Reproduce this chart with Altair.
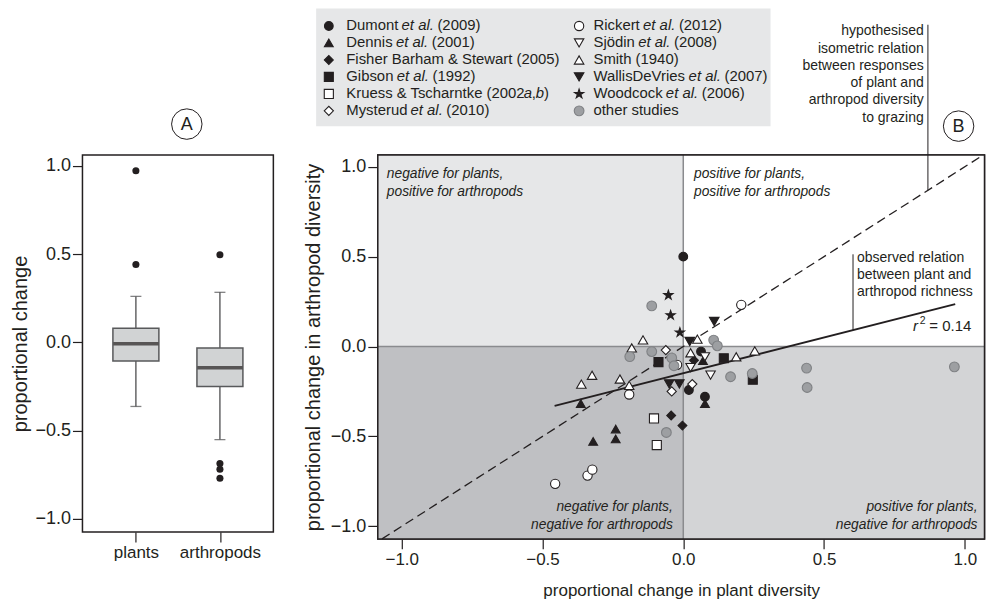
import altair as alt
import pandas as pd

FONT = "Liberation Sans"
INK = "#231f20"

# ---------------- Panel A: box summaries ----------------
box_group = ["plants", "arthropods"]
box_q1 = [-0.107, -0.251]
box_q3 = [0.079, -0.032]
box_median = [-0.009, -0.145]
box_lo = [-0.364, -0.552]
box_hi = [0.260, 0.283]
out_group = ["plants", "plants", "arthropods", "arthropods", "arthropods", "arthropods"]
out_value = [0.972, 0.441, 0.496, -0.688, -0.720, -0.771]

# ---------------- Panel B: study points ----------------
studies = ["Dumont", "Dennis", "Fisher", "Gibson", "Kruess", "Mysterud",
           "Rickert", "Sjodin", "Smith", "WallisDeVries", "Woodcock", "other"]

pt_study = (["Dumont"] * 4 + ["Dennis"] * 6 + ["Fisher"] * 3 + ["Gibson"] * 3 +
            ["Kruess"] * 2 + ["Mysterud"] * 3 + ["Rickert"] * 6 + ["Sjodin"] * 3 +
            ["Smith"] * 10 + ["WallisDeVries"] * 4 + ["Woodcock"] * 3 + ["other"] * 13)
pt_x = [0.000, 0.063, 0.020, 0.077,
        -0.364, -0.320, -0.240, -0.240, 0.070, 0.077,
        0.038, -0.043, -0.003,
        -0.088, 0.144, 0.247,
        -0.104, -0.094,
        -0.062, -0.041, 0.032,
        0.206, -0.022, -0.192, -0.455, -0.340, -0.323,
        0.077, 0.026, 0.097,
        0.050, -0.143, -0.183, 0.026, 0.188, 0.254, -0.324, -0.362, -0.225, -0.192,
        0.110, 0.023, -0.050, -0.014,
        -0.053, -0.045, -0.012,
        -0.112, -0.112, -0.190, 0.108, 0.121, -0.041, -0.033, 0.168, 0.245,
        -0.060, 0.438, 0.440, 0.963]
pt_y = [0.500, -0.028, -0.242, -0.279,
        -0.317, -0.528, -0.459, -0.514, -0.079, -0.317,
        -0.077, -0.384, -0.440,
        -0.087, -0.065, -0.185,
        -0.400, -0.548,
        -0.020, -0.250, -0.209,
        0.232, -0.102, -0.267, -0.764, -0.718, -0.685,
        -0.057, -0.117, -0.159,
        0.041, 0.037, -0.008, -0.035, -0.057, -0.024, -0.160, -0.209, -0.181, -0.216,
        0.139, 0.028, -0.208, -0.208,
        0.286, 0.174, 0.078,
        0.226, -0.028, -0.056, 0.036, 0.004, -0.063, -0.107, -0.168, -0.150,
        -0.478, -0.120, -0.228, -0.113]

# regression line end points and hypothesised 1:1 line
fit_x = [-0.457, 0.966]
fit_y = [-0.330, 0.236]
iso_v = [-1.07, 1.065]

STAR = ("M0,-1L0.2245,-0.309L0.951,-0.309L0.363,0.118L0.588,0.809L0,0.382"
        "L-0.588,0.809L-0.363,0.118L-0.951,-0.309L-0.2245,-0.309Z")
GRAY_PT = "#9d9fa2"
shape_range = ["circle", "triangle-up", "diamond", "square", "square", "diamond",
               "circle", "triangle-down", "triangle-up", "triangle-down", STAR, "circle"]
fill_range = [INK, INK, INK, INK, "white", "white", "white", "white", "white", INK, INK, GRAY_PT]
stroke_range = [INK] * 11 + ["#7f8184"]
size_range = [76, 95, 100, 52, 52, 100, 66, 95, 95, 95, 125, 66]

# legend text (segments: text, italic?)
legend_segments = [
    [("Dumont", 0), ("et al.", 1), ("(2009)", 0)],
    [("Dennis", 0), ("et al.", 1), ("(2001)", 0)],
    [("Fisher Barham & Stewart (2005)", 0)],
    [("Gibson", 0), ("et al.", 1), ("(1992)", 0)],
    [("Kruess & Tscharntke (2002", 0), ("a", 1), (",", 0), ("b", 1), (")", 0)],
    [("Mysterud", 0), ("et al.", 1), ("(2010)", 0)],
    [("Rickert", 0), ("et al.", 1), ("(2012)", 0)],
    [("Sjödin", 0), ("et al.", 1), ("(2008)", 0)],
    [("Smith (1940)", 0)],
    [("WallisDeVries", 0), ("et al.", 1), ("(2007)", 0)],
    [("Woodcock", 0), ("et al.", 1), ("(2006)", 0)],
    [("other studies", 0)],
]

# Arial / Liberation Sans advance widths (1/1000 em)
AW = {" ": 278, "&": 667, "(": 333, ")": 333, ",": 278, ".": 278, "=": 584}
AW.update({d: 556 for d in "0123456789"})
AW.update(dict(zip("ABCDEFGHIJKLMNOPQRSTUVWXYZ",
                   [667, 667, 722, 722, 667, 611, 778, 722, 278, 500, 667, 556, 833,
                    722, 778, 667, 778, 722, 667, 611, 722, 667, 944, 667, 667, 611])))
AW.update(dict(zip("abcdefghijklmnopqrstuvwxyz",
                   [556, 556, 500, 556, 556, 278, 556, 556, 222, 222, 500, 222, 833,
                    556, 556, 556, 556, 333, 500, 278, 556, 500, 722, 500, 500, 500])))
AW["ö"] = 556


def tw(s, size):
    return 0.983 * sum(AW.get(c, 556) for c in s) * size / 1000.0


# ---------------- sizes / scales ----------------
A_W, A_H = 191, 377
B_W, B_H = 607, 384
XD = [-1.085, 1.07]
YD = [-1.07, 1.065]
PXX = B_W / (XD[1] - XD[0])
LEG_FS = 14.9
ANN_FS = 14

tick_vals = [-1.0, -0.5, 0.0, 0.5, 1.0]

# ================= Panel A =================
box_df = pd.DataFrame(dict(group=box_group, q1=box_q1, q3=box_q3, med=box_median,
                           lo=box_lo, hi=box_hi))
out_df = pd.DataFrame(dict(group=out_group, value=out_value))
cap_df = pd.DataFrame(dict(group=box_group * 2, value=box_lo + box_hi))

xa = alt.X("group:N", sort=box_group,
           scale=alt.Scale(type="point", padding=0.636),
           axis=alt.Axis(title=None, labelAngle=0, labelFontSize=17, labelPadding=3,
                         tickSize=10, domain=False, grid=False))
ya_scale = alt.Scale(domain=[-1.075, 1.061], nice=False, zero=False)
ya_axis = alt.Axis(values=tick_vals, format=".1f", title="proportional change",
                   titleFontSize=20, labelFontSize=18, tickSize=10, labelPadding=2,
                   titlePadding=4, domain=False, grid=False)

whisk = alt.Chart(box_df).mark_rule(color="#4d4d4f", strokeWidth=1.3).encode(
    x=xa, y=alt.Y("lo:Q", scale=ya_scale, axis=ya_axis), y2="hi:Q")
caps = alt.Chart(cap_df).mark_tick(color="#4d4d4f", size=11, thickness=1.3).encode(
    x=xa, y=alt.Y("value:Q", scale=ya_scale, axis=ya_axis))
boxes = alt.Chart(box_df).mark_bar(size=46, color="#d1d3d4", stroke="#58595b",
                                   strokeWidth=1.5).encode(
    x=xa, y=alt.Y("q1:Q", scale=ya_scale, axis=ya_axis), y2="q3:Q")
meds = alt.Chart(box_df).mark_tick(color=INK, size=45, thickness=3.5).encode(
    x=xa, y=alt.Y("med:Q", scale=ya_scale, axis=ya_axis))
outs = alt.Chart(out_df).mark_circle(color=INK, size=50, opacity=1).encode(
    x=xa, y=alt.Y("value:Q", scale=ya_scale, axis=ya_axis))
badge_a = alt.Chart(pd.DataFrame({"t": ["A"]})).mark_point(
    shape="circle", size=930, filled=True, fill="white", stroke=INK, strokeWidth=1,
    opacity=1).encode(x=alt.value(104.4), y=alt.value(-31))
badge_a_txt = alt.Chart(pd.DataFrame({"t": ["A"]})).mark_text(
    fontSize=18, color=INK, baseline="middle", dy=1).encode(
    x=alt.value(104.4), y=alt.value(-31), text="t:N")

panelA = alt.layer(whisk, caps, boxes, meds, outs, badge_a, badge_a_txt).properties(
    width=A_W, height=A_H)

# ================= Panel B =================
xs = alt.Scale(domain=XD, nice=False, zero=False)
ys = alt.Scale(domain=YD, nice=False, zero=False)
xb_axis = alt.Axis(values=tick_vals, format=".1f",
                   title="proportional change in plant diversity", titleFontSize=17,
                   labelFontSize=17, tickSize=10, labelPadding=3, titlePadding=15,
                   domain=False, grid=False)
yb_axis = alt.Axis(values=tick_vals, format=".1f",
                   title="proportional change in arthropod diversity", titleFontSize=20,
                   labelFontSize=18, tickSize=10, labelPadding=2, titlePadding=6.5,
                   domain=False, grid=False)


def X(f):
    return alt.X(f, scale=xs, axis=xb_axis)


def Y(f):
    return alt.Y(f, scale=ys, axis=yb_axis)


quad_df = pd.DataFrame(dict(
    x1=[XD[0], 0, XD[0], 0], x2=[0, XD[1], 0, XD[1]],
    y1=[0, 0, YD[0], YD[0]], y2=[YD[1], YD[1], 0, 0],
    c=["#e6e7e8", "#ffffff", "#bfc0c3", "#d3d4d6"]))
quads = alt.Chart(quad_df).mark_rect().encode(
    x=X("x1:Q"), x2="x2:Q", y=Y("y1:Q"), y2="y2:Q", color=alt.Color("c:N", scale=None))

zero_v = alt.Chart(pd.DataFrame({"v": [0.0]})).mark_rule(
    color="#8a8b8e", strokeWidth=1.5).encode(x=X("v:Q"))
zero_h = alt.Chart(pd.DataFrame({"v": [0.0]})).mark_rule(
    color="#8a8b8e", strokeWidth=1.5).encode(y=Y("v:Q"))

iso = alt.Chart(pd.DataFrame({"x": iso_v, "y": iso_v})).mark_line(
    color=INK, strokeWidth=1.3, strokeDash=[9, 5]).encode(x=X("x:Q"), y=Y("y:Q"))
fit = alt.Chart(pd.DataFrame({"x": fit_x, "y": fit_y})).mark_line(
    color=INK, strokeWidth=2).encode(x=X("x:Q"), y=Y("y:Q"))

pts_df = pd.DataFrame(dict(study=pt_study, x=pt_x, y=pt_y))
shape_enc = alt.Shape("study:N", scale=alt.Scale(domain=studies, range=shape_range), legend=None)
fill_enc = alt.Fill("study:N", scale=alt.Scale(domain=studies, range=fill_range), legend=None)
stroke_enc = alt.Stroke("study:N", scale=alt.Scale(domain=studies, range=stroke_range), legend=None)
size_enc = alt.Size("study:N", scale=alt.Scale(domain=studies, range=size_range), legend=None)

points = alt.Chart(pts_df).mark_point(opacity=1, fillOpacity=1, strokeWidth=1.1).encode(
    x=X("x:Q"), y=Y("y:Q"), shape=shape_enc, fill=fill_enc, stroke=stroke_enc, size=size_enc)

# frame on top of quadrant fills
frame = alt.Chart(pd.DataFrame(dict(x1=[XD[0]], x2=[XD[1]], y1=[YD[0]], y2=[YD[1]]))).mark_rect(
    fillOpacity=0, stroke=INK, strokeWidth=1.5).encode(
    x=X("x1:Q"), x2="x2:Q", y=Y("y1:Q"), y2="y2:Q")

# leader lines
lead_df = pd.DataFrame(dict(x=[0.869, 0.603], y1=[0.869, 0.092], y2=[1.79, 0.513]))
leaders = alt.Chart(lead_df).mark_rule(color=INK, strokeWidth=1).encode(
    x=X("x:Q"), y=Y("y1:Q"), y2="y2:Q")

# annotation text
hyp_lines = ["hypothesised", "isometric relation", "between responses",
             "of plant and", "arthropod diversity", "to grazing"]
hyp_df = pd.DataFrame(dict(t=hyp_lines, x=[0.854] * 6,
                           y=[1.754 - 0.0962 * i for i in range(6)]))
hyp = alt.Chart(hyp_df).mark_text(align="right", baseline="middle", fontSize=ANN_FS,
                                  color=INK).encode(x=X("x:Q"), y=Y("y:Q"), text="t:N")

obs_lines = ["observed relation", "between plant and", "arthropod richness"]
obs_df = pd.DataFrame(dict(t=obs_lines, x=[0.617] * 3, y=[0.491, 0.398, 0.304]))
obs = alt.Chart(obs_df).mark_text(align="left", baseline="middle", fontSize=ANN_FS,
                                  color=INK).encode(x=X("x:Q"), y=Y("y:Q"), text="t:N")

r_it = alt.Chart(pd.DataFrame(dict(t=["r"], x=[0.816], y=[0.087]))).mark_text(
    align="left", baseline="alphabetic", fontSize=15, fontStyle="italic", color=INK).encode(
    x=X("x:Q"), y=Y("y:Q"), text="t:N")
r_sup = alt.Chart(pd.DataFrame(dict(t=["2"], x=[0.840], y=[0.125]))).mark_text(
    align="left", baseline="alphabetic", fontSize=10.5, color=INK).encode(
    x=X("x:Q"), y=Y("y:Q"), text="t:N")
r_val = alt.Chart(pd.DataFrame(dict(t=["= 0.14"], x=[0.874], y=[0.087]))).mark_text(
    align="left", baseline="alphabetic", fontSize=15, color=INK).encode(
    x=X("x:Q"), y=Y("y:Q"), text="t:N")

ql_df_left = pd.DataFrame(dict(
    t=["negative for plants,", "positive for arthropods",
       "positive for plants,", "positive for arthropods"],
    x=[-1.053, -1.053, 0.038, 0.038], y=[0.958, 0.861, 0.958, 0.861]))
ql_df_right = pd.DataFrame(dict(
    t=["negative for plants,", "negative for arthropods",
       "positive for plants,", "negative for arthropods"],
    x=[-0.037, -0.037, 1.045, 1.045], y=[-0.894, -0.992, -0.894, -0.992]))
ql_left = alt.Chart(ql_df_left).mark_text(
    align="left", baseline="middle", fontSize=13.8, fontStyle="italic", color=INK).encode(
    x=X("x:Q"), y=Y("y:Q"), text="t:N")
ql_right = alt.Chart(ql_df_right).mark_text(
    align="right", baseline="middle", fontSize=13.8, fontStyle="italic", color=INK).encode(
    x=X("x:Q"), y=Y("y:Q"), text="t:N")

# legend box
leg_box = alt.Chart(pd.DataFrame(dict(x1=[-1.304], x2=[0.31], y1=[1.226], y2=[1.88]))).mark_rect(
    color="#e6e7e8").encode(x=X("x1:Q"), x2="x2:Q", y=Y("y1:Q"), y2="y2:Q")

row_y = [1.783, 1.689, 1.594, 1.500, 1.405, 1.311]
col_mark_x = [-1.259, -0.370]
col_text_x = [-1.197, -0.319]
lm_rows, lt_rows = [], []
for i, st in enumerate(studies):
    col, row = divmod(i, 6)
    lm_rows.append(dict(study=st, x=col_mark_x[col], y=row_y[row]))
    cursor = col_text_x[col]
    prev = None
    for seg, ital in legend_segments[i]:
        if prev is not None:
            tight = seg in (",", ")", "a", "b") or prev == ","
            cursor += tw(prev + ("" if tight else " "), LEG_FS) / PXX
        lt_rows.append(dict(t=seg, x=cursor, y=row_y[row], it=ital))
        prev = seg
lm_df = pd.DataFrame(lm_rows)
lt_df = pd.DataFrame(lt_rows)

leg_marks = alt.Chart(lm_df).mark_point(opacity=1, fillOpacity=1, strokeWidth=1.1).encode(
    x=X("x:Q"), y=Y("y:Q"), shape=shape_enc, fill=fill_enc, stroke=stroke_enc, size=size_enc)
leg_txt_n = alt.Chart(lt_df[lt_df.it == 0]).mark_text(
    align="left", baseline="middle", fontSize=LEG_FS, color=INK).encode(
    x=X("x:Q"), y=Y("y:Q"), text="t:N")
leg_txt_i = alt.Chart(lt_df[lt_df.it == 1]).mark_text(
    align="left", baseline="middle", fontSize=LEG_FS, fontStyle="italic", color=INK).encode(
    x=X("x:Q"), y=Y("y:Q"), text="t:N")

badge_b = alt.Chart(pd.DataFrame(dict(t=["B"], x=[0.978], y=[1.226]))).mark_point(
    shape="circle", size=930, filled=True, fill="white", stroke=INK, strokeWidth=1,
    opacity=1).encode(x=X("x:Q"), y=Y("y:Q"))
badge_b_txt = alt.Chart(pd.DataFrame(dict(t=["B"], x=[0.978], y=[1.226]))).mark_text(
    fontSize=18, color=INK, baseline="middle", dy=1).encode(x=X("x:Q"), y=Y("y:Q"), text="t:N")

panelB = alt.layer(quads, zero_v, zero_h, iso, fit, points, frame, leaders, hyp, obs,
                   r_it, r_sup, r_val, ql_left, ql_right, leg_box, leg_marks,
                   leg_txt_n, leg_txt_i, badge_b, badge_b_txt).properties(
    width=B_W, height=B_H)

chart = alt.hconcat(panelA, panelB, spacing=28.5).properties(
    padding={"left": 9.5, "top": 7, "right": 0, "bottom": 0}
).configure(font=FONT).configure_view(stroke=INK, strokeWidth=1.5).configure_axis(
    labelColor=INK, titleColor=INK, tickColor=INK, tickWidth=1.2,
    labelFont=FONT, titleFont=FONT, titleFontWeight="normal"
)

chart.save("out.html", embed_options={"renderer": "svg", "actions": False})
